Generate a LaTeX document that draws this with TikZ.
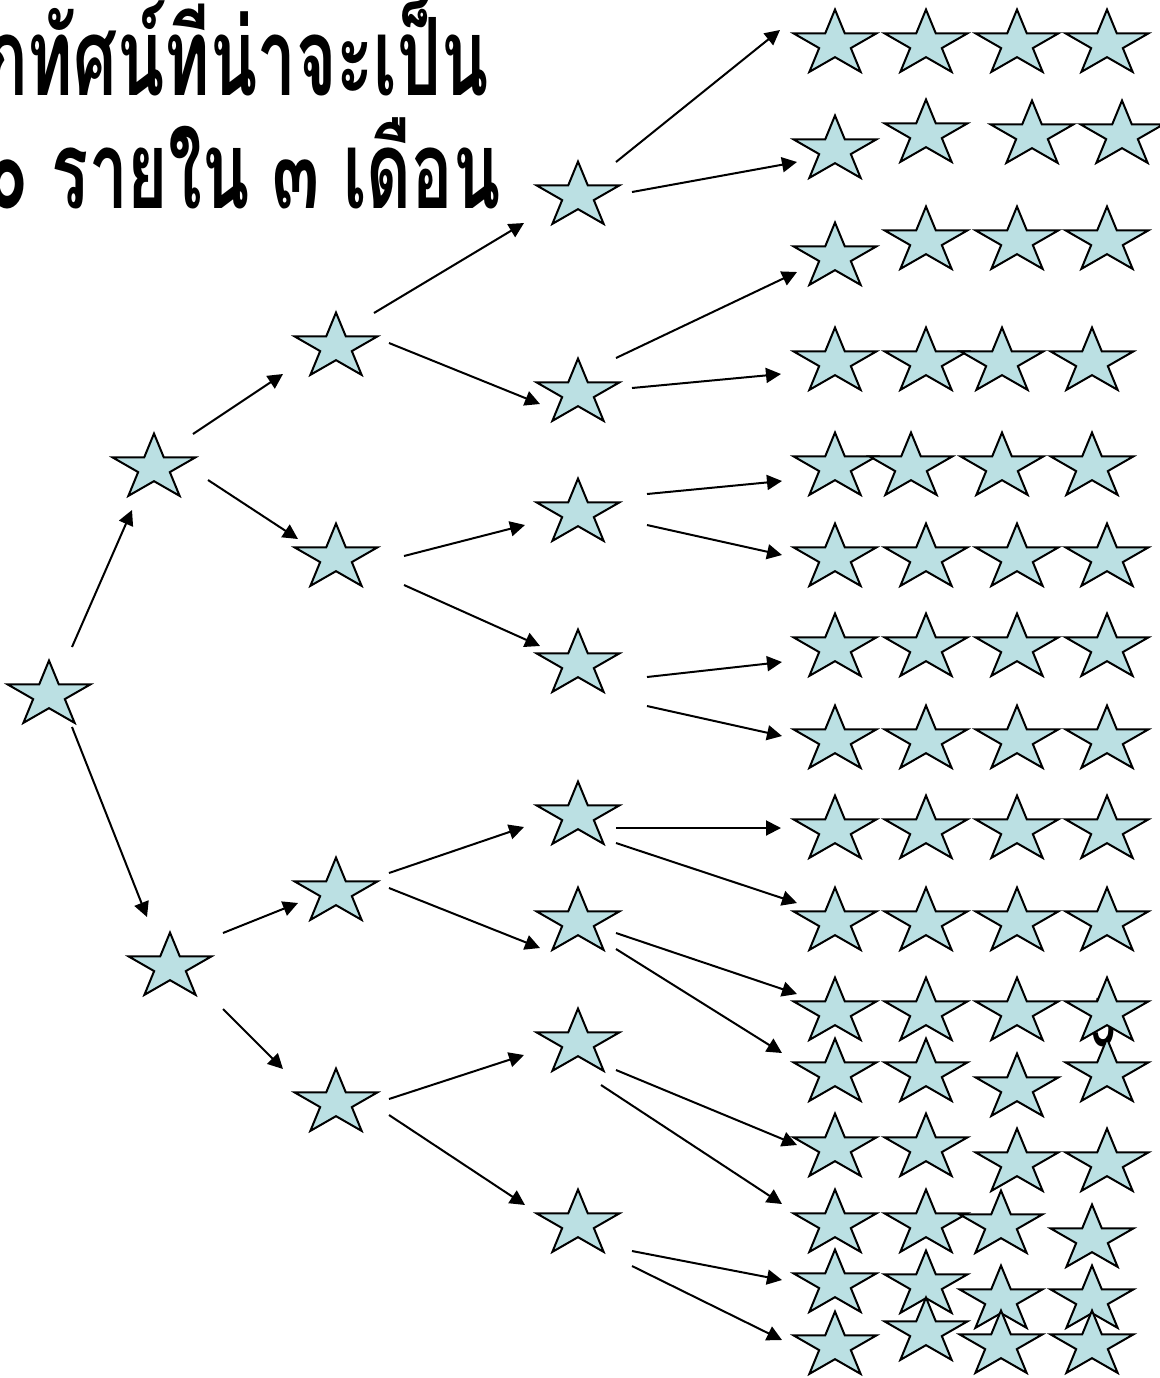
\documentclass[tikz,border=0pt]{standalone}
\usepackage{fontspec}
\newfontfamily\thaifont[Script=Thai,FakeStretch=0.64]{Loma}
\usetikzlibrary{shapes.geometric,arrows.meta}
\definecolor{starfill}{RGB}{187,224,227}

\begin{document}
\begin{tikzpicture}[
  x=0.5pt, y=-0.5pt,
  starnode/.style={
    draw, line width=1pt, fill=starfill,
    star, star points=5, star point ratio=2.618,
    minimum size=43.6pt, inner sep=0pt, yscale=0.79,
  },
  link/.style={-{Triangle[length=7.5pt,width=7.5pt]}, line width=1pt},
  title/.style={font=\thaifont\bfseries\fontsize{54}{60}\selectfont,
    inner sep=0pt, anchor=base east},
]
\useasboundingbox (0,0) rectangle (1160,1378);

% heading (cut at the left edge)
\node[title] (head1) at (489,95) {กทัศน์ที่น่าจะเป็น};
\node[title] (head2) at (501,208) {๐ รายใน ๓ เดือน};

% slide number, mostly hidden behind the stars
\node[font=\thaifont\bfseries\fontsize{34}{36}\selectfont, inner sep=0pt,
  anchor=base east] (pagenum) at (1116,1046) {5};

% tree
\node[starnode] (s0) at (49,695) {};
\node[starnode] (s1a) at (154,468) {};
\node[starnode] (s1b) at (170,967) {};
\node[starnode] (s2a) at (336,347) {};
\node[starnode] (s2b) at (336,558) {};
\node[starnode] (s2c) at (336,892) {};
\node[starnode] (s2d) at (336,1103) {};
\node[starnode] (s3a) at (578,196) {};
\node[starnode] (s3b) at (578,393) {};
\node[starnode] (s3c) at (578,513) {};
\node[starnode] (s3d) at (578,664) {};
\node[starnode] (s3e) at (578,816) {};
\node[starnode] (s3f) at (578,922) {};
\node[starnode] (s3g) at (578,1043) {};
\node[starnode] (s3h) at (578,1224) {};

% last column, 16 rows of four
\node[starnode] (t1a) at (835,44) {};   \node[starnode] (t1b) at (926,44) {};   \node[starnode] (t1c) at (1017,44) {};   \node[starnode] (t1d) at (1107,44) {};
\node[starnode] (t2a) at (835,150) {};  \node[starnode] (t2b) at (926,134) {};  \node[starnode] (t2c) at (1032,135) {};  \node[starnode] (t2d) at (1122,135) {};
\node[starnode] (t3a) at (835,257) {};  \node[starnode] (t3b) at (926,241) {};  \node[starnode] (t3c) at (1017,241) {};  \node[starnode] (t3d) at (1107,241) {};
\node[starnode] (t4a) at (835,362) {};  \node[starnode] (t4b) at (926,362) {};  \node[starnode] (t4c) at (1002,362) {};  \node[starnode] (t4d) at (1092,362) {};
\node[starnode] (t5a) at (835,467) {};  \node[starnode] (t5b) at (911,467) {};  \node[starnode] (t5c) at (1002,467) {};  \node[starnode] (t5d) at (1092,467) {};
\node[starnode] (t6a) at (835,558) {};  \node[starnode] (t6b) at (926,558) {};  \node[starnode] (t6c) at (1017,558) {};  \node[starnode] (t6d) at (1107,558) {};
\node[starnode] (t7a) at (835,648) {};  \node[starnode] (t7b) at (926,648) {};  \node[starnode] (t7c) at (1017,648) {};  \node[starnode] (t7d) at (1107,648) {};
\node[starnode] (t8a) at (835,740) {};  \node[starnode] (t8b) at (926,740) {};  \node[starnode] (t8c) at (1017,740) {};  \node[starnode] (t8d) at (1107,740) {};
\node[starnode] (t9a) at (835,830) {};  \node[starnode] (t9b) at (926,830) {};  \node[starnode] (t9c) at (1017,830) {};  \node[starnode] (t9d) at (1107,830) {};
\node[starnode] (t10a) at (835,922) {}; \node[starnode] (t10b) at (926,922) {}; \node[starnode] (t10c) at (1017,922) {}; \node[starnode] (t10d) at (1107,922) {};
\node[starnode] (t11a) at (835,1012) {}; \node[starnode] (t11b) at (926,1012) {}; \node[starnode] (t11c) at (1017,1012) {}; \node[starnode] (t11d) at (1107,1012) {};
\node[starnode] (t12a) at (835,1073) {}; \node[starnode] (t12b) at (926,1073) {}; \node[starnode] (t12c) at (1017,1088) {}; \node[starnode] (t12d) at (1107,1073) {};
\node[starnode] (t13a) at (835,1148) {}; \node[starnode] (t13b) at (926,1148) {}; \node[starnode] (t13c) at (1017,1163) {}; \node[starnode] (t13d) at (1107,1163) {};
\node[starnode] (t14a) at (835,1224) {}; \node[starnode] (t14b) at (926,1224) {}; \node[starnode] (t14c) at (1001,1225) {}; \node[starnode] (t14d) at (1092,1239) {};
\node[starnode] (t15a) at (835,1284) {}; \node[starnode] (t15b) at (926,1285) {}; \node[starnode] (t15c) at (1001,1300) {}; \node[starnode] (t15d) at (1092,1300) {};
\node[starnode] (t16a) at (835,1346) {}; \node[starnode] (t16b) at (926,1332) {}; \node[starnode] (t16c) at (1001,1345) {}; \node[starnode] (t16d) at (1092,1345) {};

% branches
\draw[link] ([shift={(23,-48)}]s0.center) -- ([shift={(-22,42)}]s1a.center);
\draw[link] ([shift={(23,32)}]s0.center) -- ([shift={(-23,-50)}]s1b.center);

\draw[link] ([shift={(39,-34)}]s1a.center) -- ([shift={(-53,27)}]s2a.center);
\draw[link] ([shift={(54,12)}]s1a.center) -- ([shift={(-38,-19)}]s2b.center);
\draw[link] ([shift={(53,-34)}]s1b.center) -- ([shift={(-38,11)}]s2c.center);
\draw[link] ([shift={(53,42)}]s1b.center) -- ([shift={(-53,-34)}]s2d.center);

\draw[link] ([shift={(38,-34)}]s2a.center) -- ([shift={(-54,27)}]s3a.center);
\draw[link] ([shift={(53,-4)}]s2a.center) -- ([shift={(-38,11)}]s3b.center);
\draw[link] ([shift={(68,-2)}]s2b.center) -- ([shift={(-53,12)}]s3c.center);
\draw[link] ([shift={(68,27)}]s2b.center) -- ([shift={(-38,-18)}]s3d.center);
\draw[link] ([shift={(53,-19)}]s2c.center) -- ([shift={(-54,11)}]s3e.center);
\draw[link] ([shift={(53,-4)}]s2c.center) -- ([shift={(-38,26)}]s3f.center);
\draw[link] ([shift={(53,-4)}]s2d.center) -- ([shift={(-54,12)}]s3g.center);
\draw[link] ([shift={(53,12)}]s2d.center) -- ([shift={(-53,-19)}]s3h.center);

\draw[link] ([shift={(38,-34)}]s3a.center) -- ([shift={(-55,-14)}]t1a.center);
\draw[link] ([shift={(54,-4)}]s3a.center) -- ([shift={(-38,12)}]t2a.center);
\draw[link] ([shift={(38,-35)}]s3b.center) -- ([shift={(-38,15)}]t3a.center);
\draw[link] ([shift={(54,-5)}]s3b.center) -- ([shift={(-54,12)}]t4a.center);
\draw[link] ([shift={(69,-19)}]s3c.center) -- ([shift={(-53,14)}]t5a.center);
\draw[link] ([shift={(69,12)}]s3c.center) -- ([shift={(-53,-3)}]t6a.center);
\draw[link] ([shift={(69,13)}]s3d.center) -- ([shift={(-53,14)}]t7a.center);
\draw[link] ([shift={(69,42)}]s3d.center) -- ([shift={(-53,-4)}]t8a.center);
\draw[link] ([shift={(38,12)}]s3e.center) -- ([shift={(-54,-2)}]t9a.center);
\draw[link] ([shift={(38,27)}]s3e.center) -- ([shift={(-38,-19)}]t10a.center);
\draw[link] ([shift={(38,11)}]s3f.center) -- ([shift={(-38,-18)}]t11a.center);
\draw[link] ([shift={(38,27)}]s3f.center) -- ([shift={(-53,-20)}]t12a.center);
\draw[link] ([shift={(38,27)}]s3g.center) -- ([shift={(-38,-3)}]t13a.center);
\draw[link] ([shift={(23,42)}]s3g.center) -- ([shift={(-53,-20)}]t14a.center);
\draw[link] ([shift={(54,27)}]s3h.center) -- ([shift={(-53,-4)}]t15a.center);
\draw[link] ([shift={(54,42)}]s3h.center) -- ([shift={(-53,-6)}]t16a.center);

\end{tikzpicture}
\end{document}
